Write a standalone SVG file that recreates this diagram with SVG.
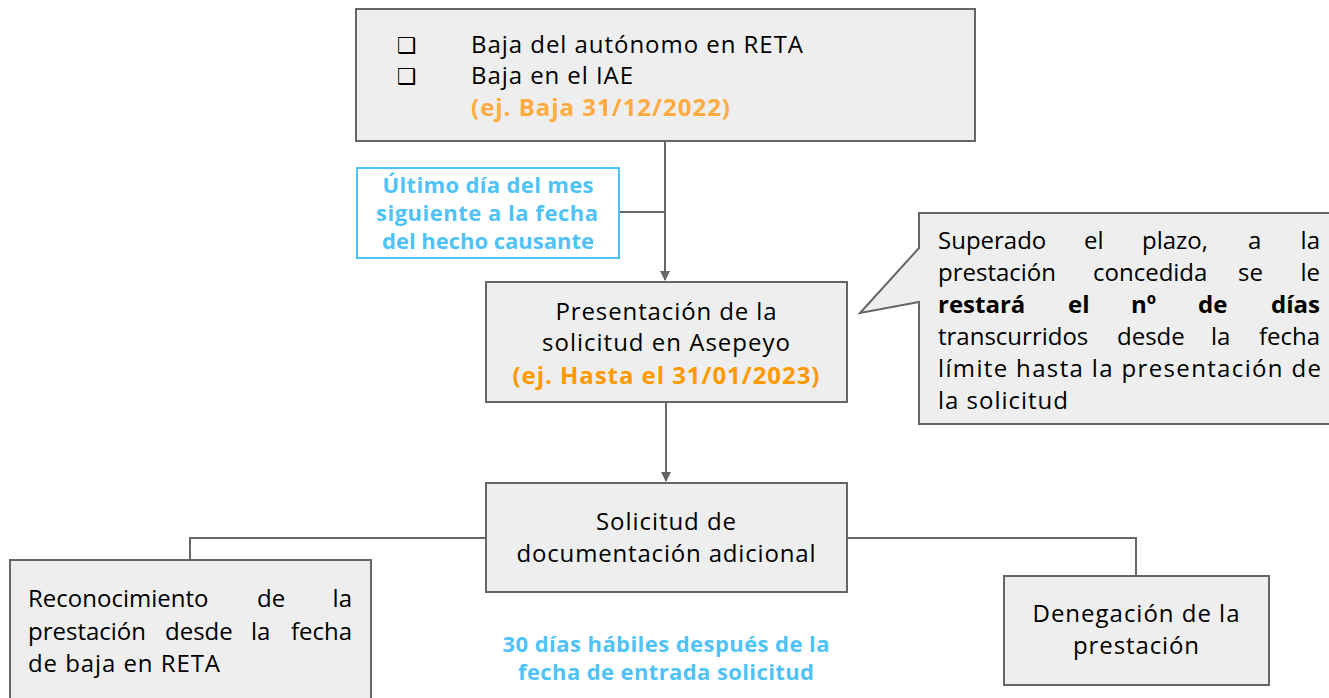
<svg xmlns="http://www.w3.org/2000/svg" width="1329" height="698" viewBox="0 0 1329 698">
<defs>
<style>
.box{fill:#eeeeee;stroke:#666666;stroke-width:2}
.t{font-family:"Open Sans","Noto Sans",sans-serif;font-size:24px;fill:#000}
.c{text-anchor:middle}
.e{text-anchor:end}
.b{font-weight:bold}
.or1{fill:#ffab40;font-weight:bold}
.or2{fill:#ff9900;font-weight:bold}
.bl{font-family:"Open Sans","Noto Sans",sans-serif;font-size:22px;font-weight:bold;fill:#4fc3f7;text-anchor:middle}
.ln{fill:none;stroke:#666666;stroke-width:2}
.bul{font-family:"DejaVu Sans",sans-serif;font-size:22px;fill:#000}
</style>
<marker id="arr" viewBox="0 0 10 10" refX="9" refY="5" markerWidth="5" markerHeight="5" orient="auto" markerUnits="strokeWidth">
<path d="M0,0 L10,5 L0,10 z" fill="#666666"/>
</marker>
</defs>
<rect width="1329" height="698" fill="#ffffff"/>

<g id="connectors">
<path class="ln" d="M665,141 V280" marker-end="url(#arr)"/>
<path class="ln" d="M619,212 H665"/>
<path class="ln" d="M666,402 V481" marker-end="url(#arr)"/>
<path class="ln" d="M486,538 H190 V560"/>
<path class="ln" d="M847,538 H1136 V576"/>
</g>

<g id="node-baja">
<rect class="box" x="356" y="9" width="619" height="132"/>
<text class="bul" x="397" y="53">❑</text>
<text class="bul" x="397" y="84">❑</text>
<text class="t" x="471" y="53" textLength="332" lengthAdjust="spacing">Baja del autónomo en RETA</text>
<text class="t" x="471" y="84" textLength="162" lengthAdjust="spacing">Baja en el IAE</text>
<text class="t or1" x="471" y="116" textLength="259" lengthAdjust="spacing">(ej. Baja 31/12/2022)</text>
</g>

<g id="node-plazo">
<rect x="357" y="168" width="262" height="90" fill="#ffffff" stroke="#4fc3f7" stroke-width="2"/>
<text class="bl" x="488" y="193" textLength="211" lengthAdjust="spacing">Último día del mes</text>
<text class="bl" x="487" y="221" textLength="222" lengthAdjust="spacing">siguiente a la fecha</text>
<text class="bl" x="488" y="249" textLength="212" lengthAdjust="spacing">del hecho causante</text>
</g>

<g id="node-presentacion">
<rect class="box" x="486" y="282" width="361" height="120"/>
<text class="t c" x="666" y="320" textLength="221" lengthAdjust="spacing">Presentación de la</text>
<text class="t c" x="666" y="351" textLength="248" lengthAdjust="spacing">solicitud en Asepeyo</text>
<text class="t c or2" x="666" y="384" textLength="307" lengthAdjust="spacing">(ej. Hasta el 31/01/2023)</text>
</g>

<g id="node-callout">
<path class="box" d="M919,213 H1340 V424 H919 V302 L860,313 L919,248 Z"/>
<text class="t" x="938" y="249">Superado</text>
<text class="t" x="1084" y="249">el</text>
<text class="t" x="1142" y="249">plazo,</text>
<text class="t" x="1248" y="249">a</text>
<text class="t e" x="1320" y="249">la</text>
<text class="t" x="938" y="281">prestación</text>
<text class="t" x="1093" y="281">concedida</text>
<text class="t" x="1238" y="281">se</text>
<text class="t e" x="1320" y="281">le</text>
<text class="t b" x="938" y="313">restará</text>
<text class="t b" x="1068" y="313">el</text>
<text class="t b" x="1131" y="313">nº</text>
<text class="t b" x="1198" y="313">de</text>
<text class="t b e" x="1320" y="313">días</text>
<text class="t" x="938" y="345">transcurridos</text>
<text class="t" x="1117" y="345">desde</text>
<text class="t" x="1211" y="345">la</text>
<text class="t e" x="1320" y="345">fecha</text>
<text class="t" x="938" y="377" textLength="383" lengthAdjust="spacing">límite hasta la presentación de</text>
<text class="t" x="938" y="409" textLength="130" lengthAdjust="spacing">la solicitud</text>
</g>

<g id="node-solicitud">
<rect class="box" x="486" y="483" width="361" height="109"/>
<text class="t c" x="666" y="530" textLength="140" lengthAdjust="spacing">Solicitud de</text>
<text class="t c" x="666" y="562" textLength="299" lengthAdjust="spacing">documentación adicional</text>
</g>

<g id="node-reconocimiento">
<rect class="box" x="10" y="560" width="361" height="150"/>
<text class="t" x="28" y="607">Reconocimiento</text>
<text class="t" x="257" y="607">de</text>
<text class="t e" x="352" y="607">la</text>
<text class="t" x="28" y="640">prestación</text>
<text class="t" x="165" y="640">desde</text>
<text class="t" x="251" y="640">la</text>
<text class="t e" x="352" y="640">fecha</text>
<text class="t" x="28" y="672" textLength="192" lengthAdjust="spacing">de baja en RETA</text>
</g>

<g id="node-plazo30">
<text class="bl" x="666" y="652" textLength="327" lengthAdjust="spacing">30 días hábiles después de la</text>
<text class="bl" x="666" y="680" textLength="296" lengthAdjust="spacing">fecha de entrada solicitud</text>
</g>

<g id="node-denegacion">
<rect class="box" x="1004" y="576" width="265" height="109"/>
<text class="t c" x="1136" y="622" textLength="207" lengthAdjust="spacing">Denegación de la</text>
<text class="t c" x="1136" y="654" textLength="126" lengthAdjust="spacing">prestación</text>
</g>
</svg>
